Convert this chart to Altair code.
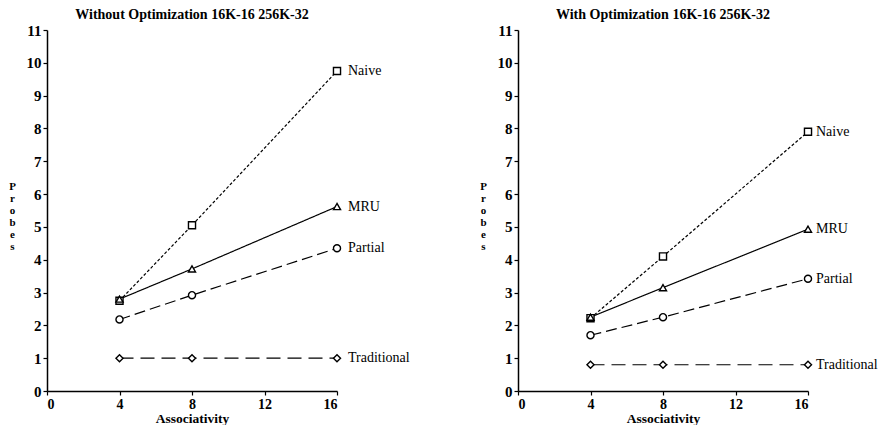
import altair as alt
import pandas as pd

# ---- data ----
assoc = [4, 8, 16]
series = ["Naive", "MRU", "Partial", "Traditional"]

without_naive = [2.75, 5.05, 9.75]
without_mru = [2.80, 3.72, 5.62]
without_partial = [2.18, 2.92, 4.35]
without_traditional = [1.0, 1.0, 1.0]

with_naive = [2.22, 4.10, 7.90]
with_mru = [2.25, 3.15, 4.93]
with_partial = [1.70, 2.25, 3.42]
with_traditional = [0.80, 0.80, 0.80]

x_ticks = [0, 4, 8, 12, 16]
y_ticks = list(range(0, 12))

title_left = "Without Optimization 16K-16 256K-32"
title_right = "With Optimization 16K-16 256K-32"


def make_df(vals):
    rows = []
    for s, v in zip(series, vals):
        for a, p in zip(assoc, v):
            rows.append({"series": s, "assoc": a, "probes": p})
    return pd.DataFrame(rows)


df_left = make_df([without_naive, without_mru, without_partial, without_traditional])
df_right = make_df([with_naive, with_mru, with_partial, with_traditional])

FONT = "Liberation Serif"


def panel(df, title, label_dx):
    x = alt.X(
        "assoc:Q",
        scale=alt.Scale(domain=[0, 16], nice=False),
        axis=alt.Axis(
            values=x_ticks,
            title="Associativity",
            titleFontSize=13.5,
            titlePadding=0,
            labelFontSize=14,
            labelPadding=2,
            tickSize=4,
        ),
    )
    y = alt.Y(
        "probes:Q",
        scale=alt.Scale(domain=[0, 11], nice=False),
        axis=alt.Axis(
            values=y_ticks,
            title=["P", "r", "o", "b", "e", "s"],
            titleAngle=0,
            titleX=-35,
            titleY=150,
            titleAlign="center",
            titleBaseline="top",
            titleFontSize=11,
            titleLineHeight=12,
            labelFontSize=15,
            tickSize=4,
            labelPadding=2,
        ),
    )
    base = alt.Chart(df)
    lines = base.mark_line(color="black", strokeWidth=1.2).encode(
        x=x,
        y=y,
        detail="series:N",
        strokeDash=alt.StrokeDash(
            "series:N",
            scale=alt.Scale(domain=series, range=[[3, 2], [1, 0], [11, 5], [14, 7]]),
            legend=None,
        ),
    )
    points = base.mark_point(
        filled=True, fill="white", stroke="black", size=50, strokeWidth=1.4, opacity=1
    ).encode(
        x=x,
        y=y,
        shape=alt.Shape(
            "series:N",
            scale=alt.Scale(
                domain=series, range=["square", "triangle-up", "circle", "diamond"]
            ),
            legend=None,
        ),
    )
    labels = (
        alt.Chart(df[df["assoc"] == 16])
        .mark_text(align="left", baseline="middle", dx=label_dx, font=FONT,
                   fontSize=14, color="black")
        .encode(x=x, y=y, text="series:N")
    )
    return alt.layer(lines, points, labels).properties(
        width=290,
        height=361,
        title=alt.TitleParams(
            title, font=FONT, fontSize=14, fontWeight="bold", anchor="middle",
            offset=1, color="black"
        ),
    )


chart = (
    alt.hconcat(panel(df_left, title_left, 11), panel(df_right, title_right, 8), spacing=69)
    .configure_view(stroke=None)
    .configure_axis(
        grid=False,
        domainColor="black",
        domainWidth=1.5,
        tickColor="black",
        tickWidth=1.2,
        labelFont=FONT,
        labelFontWeight="bold",
        labelColor="black",
        titleFont=FONT,
        titleFontWeight="bold",
        titleColor="black",
    )
    .properties(background="white", padding=0)
)

chart.save("out.html", embed_options={"renderer": "svg", "actions": False})
